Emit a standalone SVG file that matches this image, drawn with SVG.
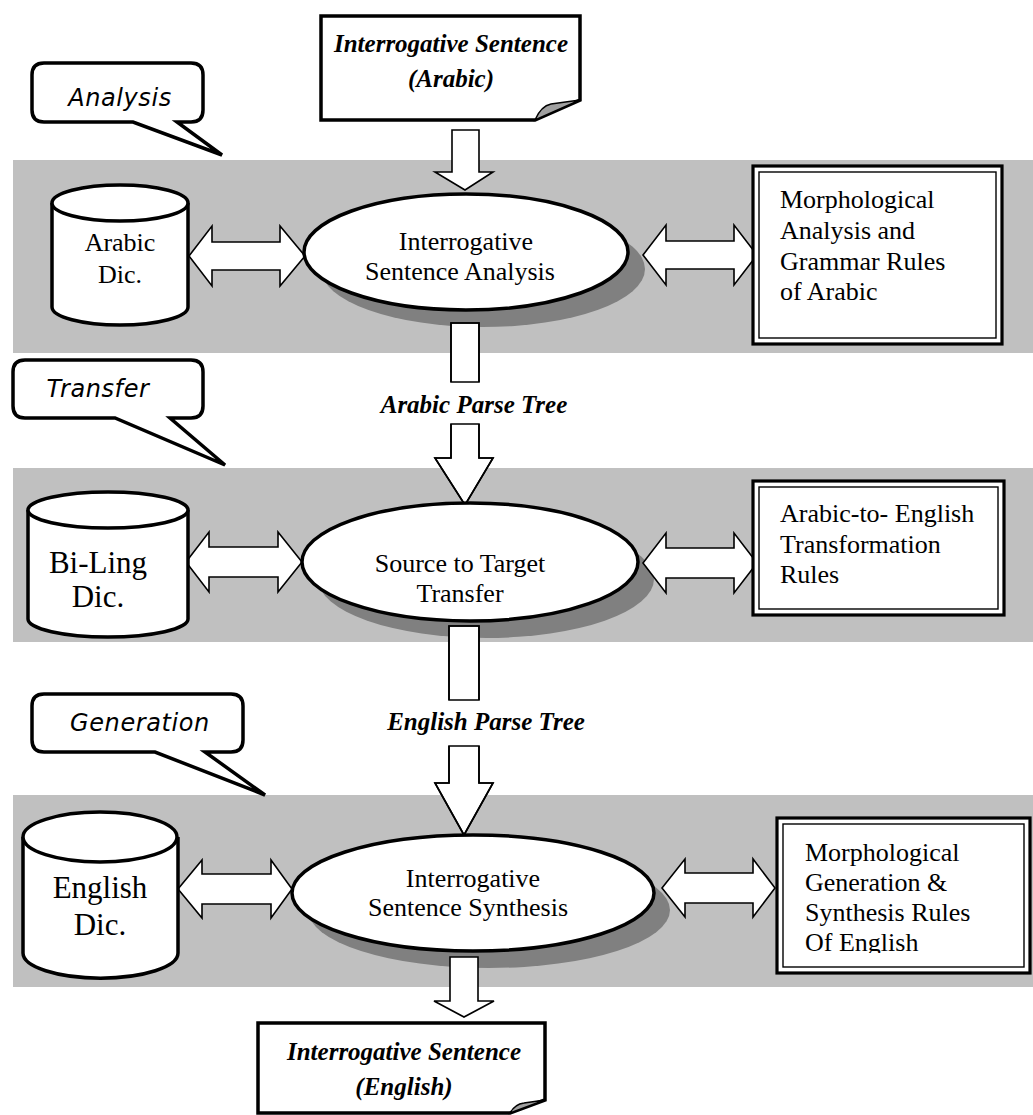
<svg xmlns="http://www.w3.org/2000/svg" width="1033" height="1115" viewBox="0 0 1033 1115">
<style>
.band{fill:#c0c0c0}
.shadow{fill:#808080}
.thick{fill:#fff;stroke:#000;stroke-width:3.5}
.arrow{fill:#fff;stroke:#000;stroke-width:1.6;stroke-linejoin:miter}
.line{fill:none;stroke:#000;stroke-width:1.6}
.outer{fill:#fff;stroke:#000;stroke-width:3.2}
.inner{fill:none;stroke:#000;stroke-width:1.4}
.t{font-family:"Liberation Serif","Times New Roman",serif;font-size:26px;fill:#000}
.tb{font-family:"Liberation Serif","Times New Roman",serif;font-size:25px;font-weight:bold;font-style:italic;fill:#000}
.call{font-family:"DejaVu Sans","Liberation Sans",sans-serif;font-size:24px;font-style:italic;fill:#000;letter-spacing:0.6px}
.fold{fill:#a0a0a0;stroke:#000;stroke-width:1.5}
</style>
<defs>
<clipPath id="clip3"><rect x="783" y="824" width="241" height="129"/></clipPath>
</defs>
<rect width="1033" height="1115" fill="#fff"/>
<g id="bands">
<rect class="band" x="13" y="160" width="1020" height="193"/>
<rect class="band" x="13" y="468" width="1020" height="174"/>
<rect class="band" x="13" y="795" width="1020" height="192"/>
</g>
<g id="shadows">
<ellipse class="shadow" cx="483" cy="269" rx="162" ry="58"/>
<ellipse class="shadow" cx="486" cy="579" rx="168" ry="59"/>
<ellipse class="shadow" cx="489" cy="910" rx="181" ry="58"/>
</g>
<g id="connectors">
<path class="arrow" d="M452,130 H479 V172 H493 L465,190 L435,172 H452 Z"/>
<path class="arrow" d="M451,323 H479 V382 H451 Z" stroke="none"/>
<path class="line" d="M451,382 V323 H479 V382"/>
<path class="arrow" d="M451,424 H479 V458 H493 L465,505 L435,458 H451 Z" stroke="none"/>
<path class="line" d="M451,424 V458 H435 L465,505 L493,458 H479 V424"/>
<path class="arrow" d="M449,626 H479 V700 H449 Z" stroke="none"/>
<path class="line" d="M449,700 V626 H479 V700"/>
<path class="arrow" d="M449,746 H479 V783 H493 L464,835 L435,783 H449 Z" stroke="none"/>
<path class="line" d="M449,746 V783 H435 L464,835 L493,783 H479 V746"/>
<path class="arrow" d="M450,957 H478 V1001 H494 L464,1017 L434,1001 H450 Z"/>
<path class="arrow" d="M189,256 L212,226 V242 H280 V226 L305,256 L280,286 V270 H212 V286 Z"/>
<path class="arrow" d="M643,255 L666,225 V241 H734 V225 L757,255 L734,285 V269 H666 V285 Z"/>
<path class="arrow" d="M186,562 L209,532 V547 H278 V532 L302,562 L278,592 V577 H209 V592 Z"/>
<path class="arrow" d="M643,563 L666,533 V548 H734 V533 L757,563 L734,593 V578 H666 V593 Z"/>
<path class="arrow" d="M178,889 L202,860 V874 H271 V860 L292,889 L271,918 V904 H202 V918 Z"/>
<path class="arrow" d="M662,888 L685,859 V873 H753 V859 L775,888 L753,917 V903 H685 V917 Z"/>
</g>
<g id="doc-arabic">
<path class="thick" d="M321,16 H580 V100 L535,120 H321 Z"/>
<path class="fold" d="M535,120 Q541,106 551,104 L580,100 Z"/>
<text class="tb" x="451" y="52" text-anchor="middle">Interrogative Sentence</text>
<text class="tb" x="451" y="87" text-anchor="middle">(Arabic)</text>
</g>
<g id="callout-analysis">
<path class="thick" d="M44,63 H191 Q203,63 203,75 V110 Q203,122 191,122 H177 L222,155 L133,122 H44 Q32,122 32,110 V75 Q32,63 44,63 Z"/>
<text class="call" x="120" y="106" text-anchor="middle">Analysis</text>
</g>
<g id="dic-arabic">
<path class="thick" d="M52,203 V307 A68,18 0 0 0 188,307 V203"/>
<ellipse class="thick" cx="120" cy="203" rx="68" ry="18"/>
<text class="t" x="120" y="251" text-anchor="middle">Arabic</text>
<text class="t" x="120" y="283" text-anchor="middle">Dic.</text>
</g>
<g id="analysis">
<ellipse class="thick" cx="466" cy="252" rx="162" ry="58"/>
<text class="t" x="466" y="250" text-anchor="middle">Interrogative</text>
<text class="t" x="460" y="280" text-anchor="middle">Sentence Analysis</text>
</g>
<g id="rules-arabic">
<rect class="outer" x="753" y="166" width="249" height="178"/>
<rect class="inner" x="759" y="172" width="237" height="166"/>
<text class="t" x="780" y="208">Morphological</text>
<text class="t" x="780" y="239">Analysis and</text>
<text class="t" x="780" y="270">Grammar Rules</text>
<text class="t" x="780" y="300">of Arabic</text>
</g>
<g id="label-arabic-tree">
<text class="tb" x="474" y="413" text-anchor="middle">Arabic Parse Tree</text>
</g>
<g id="callout-transfer">
<path class="thick" d="M25,360 H191 Q203,360 203,372 V406 Q203,418 191,418 H170 L225,465 L115,418 H25 Q13,418 13,406 V372 Q13,360 25,360 Z"/>
<text class="call" x="98" y="397" text-anchor="middle">Transfer</text>
</g>
<g id="dic-biling">
<path class="thick" d="M28,510 V619 A80,18 0 0 0 188,619 V510"/>
<ellipse class="thick" cx="108" cy="510" rx="80" ry="18"/>
<text class="t" x="98" y="573" text-anchor="middle" style="font-size:31px">Bi-Ling</text>
<text class="t" x="98" y="607" text-anchor="middle" style="font-size:31px">Dic.</text>
</g>
<g id="transfer">
<ellipse class="thick" cx="470" cy="562" rx="168" ry="59"/>
<text class="t" x="460" y="572" text-anchor="middle">Source to Target</text>
<text class="t" x="460" y="602" text-anchor="middle">Transfer</text>
</g>
<g id="rules-transfer">
<rect class="outer" x="753" y="481" width="251" height="134"/>
<rect class="inner" x="759" y="487" width="239" height="122"/>
<text class="t" x="780" y="522">Arabic-to- English</text>
<text class="t" x="780" y="553">Transformation</text>
<text class="t" x="780" y="583">Rules</text>
</g>
<g id="label-english-tree">
<text class="tb" x="486" y="730" text-anchor="middle">English Parse Tree</text>
</g>
<g id="callout-generation">
<path class="thick" d="M44,694 H231 Q243,694 243,706 V740 Q243,752 231,752 H205 L265,795 L155,752 H44 Q32,752 32,740 V706 Q32,694 44,694 Z"/>
<text class="call" x="140" y="731" text-anchor="middle">Generation</text>
</g>
<g id="dic-english">
<path class="thick" d="M23,837 V953 A77,25 0 0 0 178,953 V837"/>
<ellipse class="thick" cx="100" cy="837" rx="77" ry="25"/>
<text class="t" x="100" y="898" text-anchor="middle" style="font-size:31px">English</text>
<text class="t" x="100" y="935" text-anchor="middle" style="font-size:31px">Dic.</text>
</g>
<g id="synthesis">
<ellipse class="thick" cx="473" cy="893" rx="181" ry="58"/>
<text class="t" x="473" y="887" text-anchor="middle">Interrogative</text>
<text class="t" x="468" y="916" text-anchor="middle">Sentence Synthesis</text>
</g>
<g id="rules-english">
<rect class="outer" x="777" y="818" width="253" height="155"/>
<rect class="inner" x="783" y="824" width="241" height="143"/>
<g clip-path="url(#clip3)">
<text class="t" x="805" y="861">Morphological</text>
<text class="t" x="805" y="891">Generation &amp;</text>
<text class="t" x="805" y="921">Synthesis Rules</text>
<text class="t" x="805" y="951">Of English</text>
</g>
</g>
<g id="doc-english">
<path class="thick" d="M258,1023 H545 V1100 L510,1113 H258 Z"/>
<path class="fold" d="M510,1113 Q515,1104 524,1103 L545,1100 Z"/>
<text class="tb" x="404" y="1060" text-anchor="middle">Interrogative Sentence</text>
<text class="tb" x="404" y="1095" text-anchor="middle">(English)</text>
</g>
</svg>
